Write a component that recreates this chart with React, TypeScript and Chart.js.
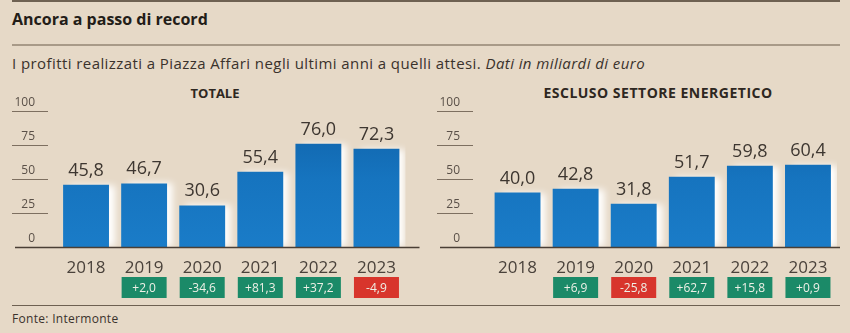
import React, { useEffect, useRef } from "react";
import { Chart, registerables } from "chart.js";

Chart.register(...registerables);

const years = ["2018", "2019", "2020", "2021", "2022", "2023"];
const totaleValues = [45.8, 46.7, 30.6, 55.4, 76.0, 72.3];
const totaleChanges = [null, 2.0, -34.6, 81.3, 37.2, -4.9];
const esclusoValues = [40.0, 42.8, 31.8, 51.7, 59.8, 60.4];
const esclusoChanges = [null, 6.9, -25.8, 62.7, 15.8, 0.9];
const yTickValues = [0, 25, 50, 75, 100];

const GREEN = "#1b8a68";
const RED = "#d8352c";
const totaleBadgeColors = [null, GREEN, GREEN, GREEN, GREEN, RED];
const esclusoBadgeColors = [null, GREEN, RED, GREEN, GREEN, GREEN];

const FONT = "'Open Sans', sans-serif";
const BG = "#e6d9c7";

const fmt = (v: number) => v.toFixed(1).replace(".", ",");
const fmtChange = (v: number) => (v > 0 ? "+" : "-") + fmt(Math.abs(v));

type PanelProps = {
  left: number;
  values: number[];
  changes: (number | null)[];
  badgeColors: (string | null)[];
  padLeft: number;
  yWidth: number;
  padRight: number;
  baseExtend: number;
};

function Panel({ left, values, changes, badgeColors, padLeft, yWidth, padRight, baseExtend }: PanelProps) {
  const ref = useRef<HTMLCanvasElement | null>(null);
  useEffect(() => {
    const canvas = ref.current!;
    const decor = {
      id: "decor",
      beforeDatasetsDraw(chart: any) {
        const ctx = chart.ctx;
        ctx.save();
        ctx.shadowColor = "rgba(255,255,255,1)";
        ctx.shadowOffsetX = 6;
        ctx.shadowOffsetY = 0;
        ctx.shadowBlur = 7;
      },
      afterDatasetsDraw(chart: any) {
        chart.ctx.restore();
      },
      afterDraw(chart: any) {
        const ctx = chart.ctx;
        const y = chart.scales.y;
        const area = chart.chartArea;
        ctx.save();
        ctx.font = `12px ${FONT}`;
        ctx.fillStyle = "#5a5048";
        ctx.textAlign = "right";
        ctx.textBaseline = "alphabetic";
        yTickValues.forEach((t) => {
          const py = y.getPixelForValue(t);
          if (t !== 0) {
            ctx.strokeStyle = "#7d6f60";
            ctx.lineWidth = 1;
            ctx.beginPath();
            ctx.moveTo(padLeft, py + 0.5);
            ctx.lineTo(padLeft + 36, py + 0.5);
            ctx.stroke();
          }
          ctx.fillText(String(t), padLeft + 23, py - 5);
        });
        const by = y.getPixelForValue(0);
        ctx.strokeStyle = "#4a3f35";
        ctx.lineWidth = 1.5;
        ctx.beginPath();
        ctx.moveTo(padLeft + 3, by + 0.5);
        ctx.lineTo(area.right + baseExtend, by + 0.5);
        ctx.stroke();
        const meta = chart.getDatasetMeta(0);
        meta.data.forEach((bar: any, i: number) => {
          ctx.font = `500 18px ${FONT}`;
          ctx.fillStyle = "#3d3630";
          ctx.textAlign = "center";
          ctx.textBaseline = "alphabetic";
          ctx.fillText(fmt(values[i]), bar.x, bar.y - 9);
          const c = changes[i];
          if (c !== null) {
            const w = 45;
            const h = 21;
            ctx.fillStyle = badgeColors[i] || GREEN;
            ctx.fillRect(bar.x - w / 2, by + 30, w, h);
            ctx.fillStyle = "#eef0e6";
            ctx.font = `12px ${FONT}`;
            ctx.textBaseline = "middle";
            ctx.fillText(fmtChange(c), bar.x, by + 30 + h / 2 + 1);
          }
        });
        ctx.restore();
      },
    };
    const chart = new Chart(canvas, {
      type: "bar",
      data: {
        labels: years,
        datasets: [
          {
            data: values,
            backgroundColor: (c: any) => {
              const a = c.chart.chartArea;
              if (!a) return "#1673bd";
              const g = c.chart.ctx.createLinearGradient(0, a.top, 0, a.bottom);
              g.addColorStop(0, "#0f62a8");
              g.addColorStop(0.5, "#1674bf");
              g.addColorStop(1, "#1a7cc8");
              return g;
            },
            borderWidth: 0,
            categoryPercentage: 1,
            barPercentage: 0.79,
          },
        ],
      },
      options: {
        responsive: false,
        animation: false,
        devicePixelRatio: 1,
        layout: { padding: { left: padLeft, right: padRight, top: 31, bottom: 0 } },
        plugins: { legend: { display: false }, tooltip: { enabled: false }, title: { display: false } },
        scales: {
          x: {
            grid: { display: false },
            border: { display: false },
            ticks: { font: { family: FONT, size: 17 }, color: "#4a423b", padding: 3 },
            afterFit: (s: any) => {
              s.height = 53;
            },
          },
          y: {
            min: 0,
            max: 100,
            grid: { display: false },
            border: { display: false },
            ticks: { display: false, stepSize: 25 },
            afterFit: (s: any) => {
              s.width = yWidth;
            },
          },
        },
      },
      plugins: [decor],
    } as any);
    return () => chart.destroy();
  }, []);
  return (
    <canvas
      ref={ref}
      width={425}
      height={220}
      style={{ position: "absolute", left, top: 80, width: 425, height: 220 }}
    />
  );
}

export default function App() {
  return (
    <div
      style={{
        position: "fixed",
        left: 0,
        top: 0,
        width: 850,
        height: 333,
        background: BG,
        fontFamily: FONT,
        overflow: "hidden",
      }}
    >
      <div style={{ position: "absolute", left: 12, top: 0, width: 828, height: 2, background: "#6e6152" }} />
      <div
        style={{
          position: "absolute",
          left: 12,
          top: 8,
          fontSize: 16,
          fontWeight: 700,
          color: "#231d18",
          lineHeight: "22px",
        }}
      >
        Ancora a passo di record
      </div>
      <div style={{ position: "absolute", left: 12, top: 44, width: 828, height: 2, background: "#a89a88" }} />
      <div
        style={{
          position: "absolute",
          left: 12,
          top: 53,
          fontSize: 15,
          letterSpacing: "0.42px",
          color: "#3a322c",
          lineHeight: "20px",
          whiteSpace: "nowrap",
        }}
      >
        I profitti realizzati a Piazza Affari negli ultimi anni a quelli attesi. <i>Dati in miliardi di euro</i>
      </div>
      <div
        style={{
          position: "absolute",
          left: 115,
          width: 200,
          top: 85,
          textAlign: "center",
          fontSize: 13,
          fontWeight: 700,
          color: "#2e2721",
          lineHeight: "16px",
        }}
      >
        TOTALE
      </div>
      <div
        style={{
          position: "absolute",
          left: 508,
          width: 300,
          top: 85,
          textAlign: "center",
          fontSize: 14,
          letterSpacing: "0.5px",
          fontWeight: 700,
          color: "#2e2721",
          lineHeight: "16px",
        }}
      >
        ESCLUSO SETTORE ENERGETICO
      </div>
      <Panel
        left={0}
        values={totaleValues}
        changes={totaleChanges}
        badgeColors={totaleBadgeColors}
        padLeft={12}
        yWidth={45}
        padRight={19.5}
        baseExtend={14}
      />
      <Panel
        left={425}
        values={esclusoValues}
        changes={esclusoChanges}
        badgeColors={esclusoBadgeColors}
        padLeft={12}
        yWidth={51.5}
        padRight={13}
        baseExtend={3}
      />
      <div style={{ position: "absolute", left: 12, top: 305, width: 828, height: 1, background: "#6e6152" }} />
      <div
        style={{
          position: "absolute",
          left: 12,
          top: 311,
          fontSize: 12,
          letterSpacing: "0.3px",
          color: "#3a322c",
          lineHeight: "16px",
        }}
      >
        Fonte: Intermonte
      </div>
    </div>
  );
}
